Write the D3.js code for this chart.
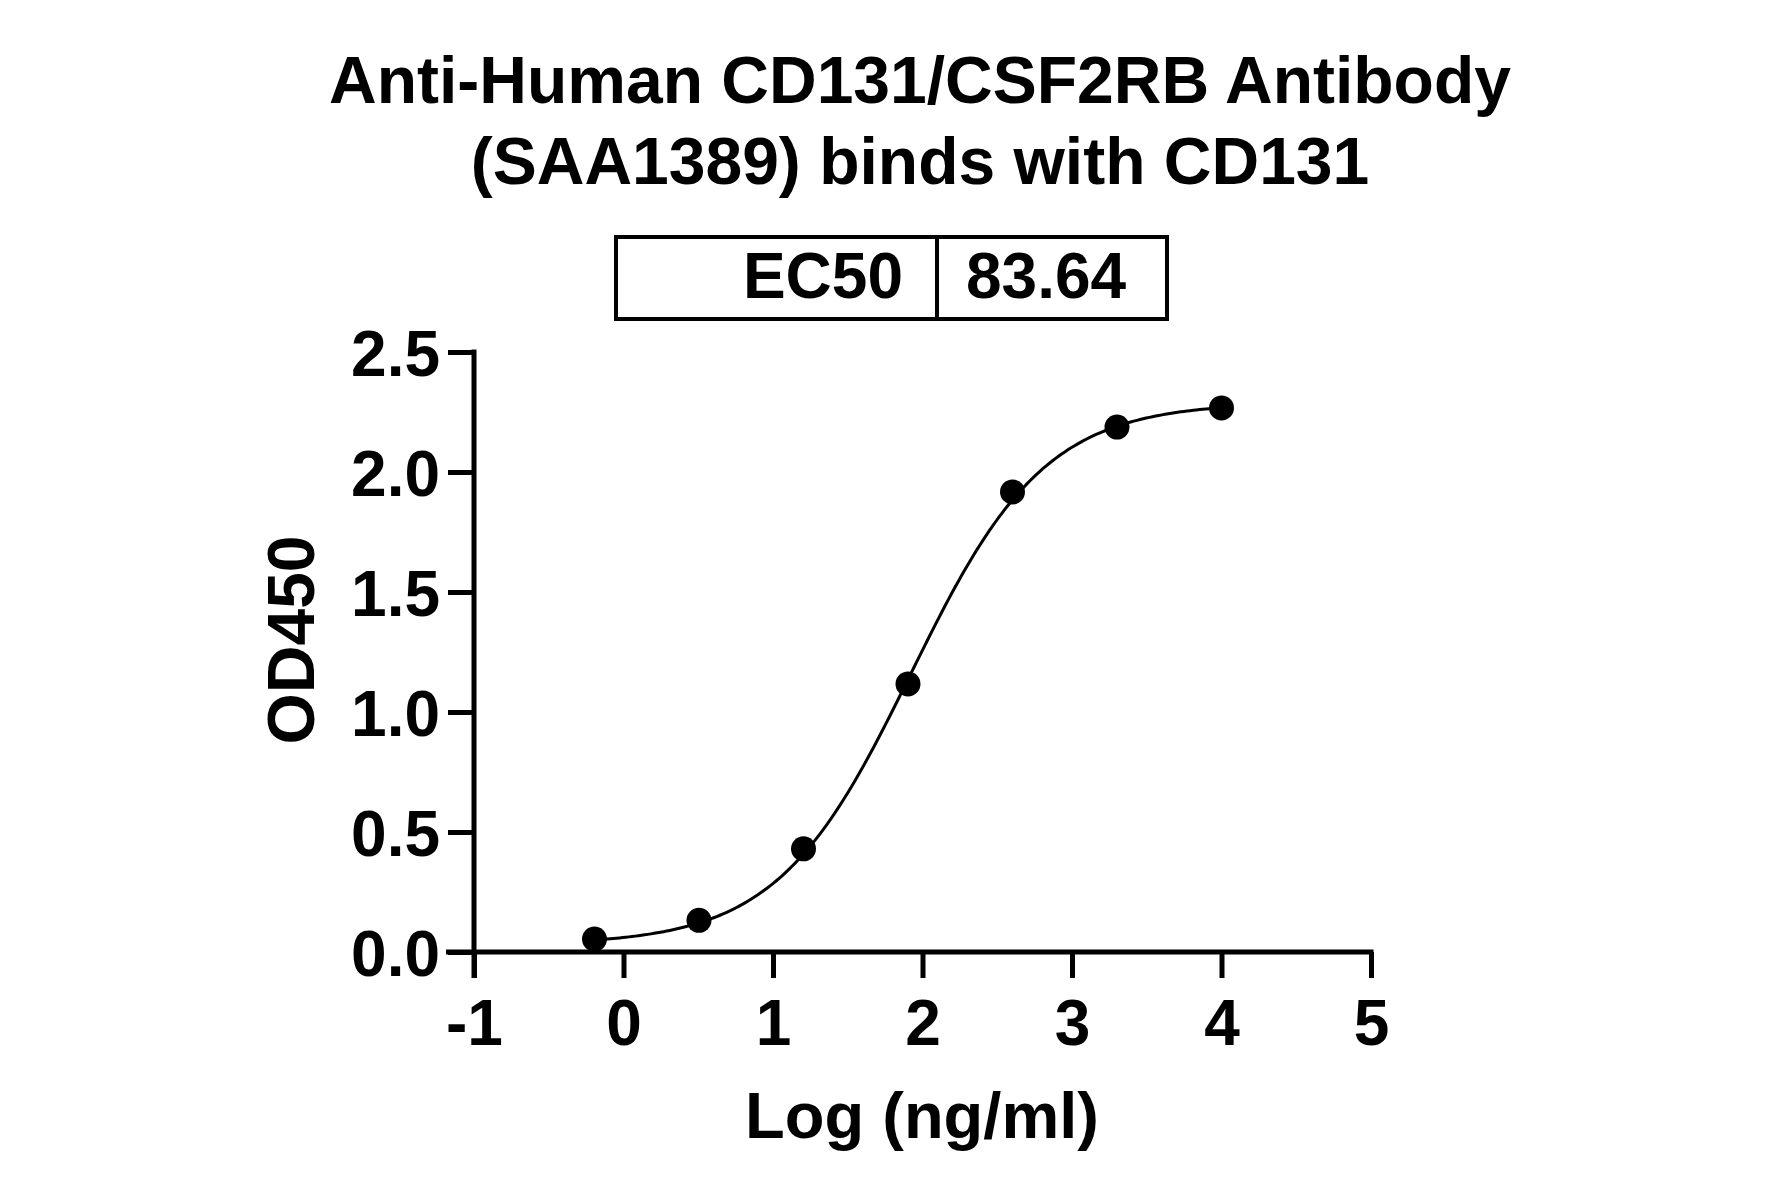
<!DOCTYPE html>
<html>
<head>
<meta charset="utf-8">
<script src="https://cdn.jsdelivr.net/npm/d3@7"></script>
<style>
  html, body { margin: 0; padding: 0; background: #fff; }
  svg { display: block; }
  text { font-family: "Liberation Sans", Arial, sans-serif; font-weight: bold; fill: #000; }
</style>
</head>
<body>
<svg id="chart" width="1781" height="1197"></svg>
<script>
// ---- data ----
const titleLines = ["Anti-Human CD131/CSF2RB Antibody", "(SAA1389) binds with CD131"];
const logConc = [-0.194, 0.505, 1.204, 1.903, 2.602, 3.301, 4.0];
const od450 = [0.054, 0.132, 0.430, 1.117, 1.917, 2.187, 2.267];
const xTicks = [-1, 0, 1, 2, 3, 4, 5];
const xTickLabels = ["-1", "0", "1", "2", "3", "4", "5"];
const yTicks = [0.0, 0.5, 1.0, 1.5, 2.0, 2.5];
const yTickLabels = ["0.0", "0.5", "1.0", "1.5", "2.0", "2.5"];
const ec50Label = "EC50";
const ec50Value = "83.64";
// 4PL fit parameters
const fitBottom = 0.03;
const fitTop = 2.29;
const fitHill = 0.97;
const fitLogEC50 = Math.log10(83.64);

const svg = d3.select("#chart");
const x = d3.scaleLinear().domain([-1, 5]).range([474, 1371]);
const y = d3.scaleLinear().domain([0, 2.5]).range([952, 352]);
const tick = 26;
const fontSize = 64;

// title
svg.append("g").selectAll("text").data(titleLines).join("text")
  .attr("x", 920).attr("y", (d, i) => 103 + i * 81)
  .attr("text-anchor", "middle").attr("font-size", 66)
  .text(d => d);

// EC50 box
const box = svg.append("g");
box.append("rect").attr("x", 616).attr("y", 237).attr("width", 551).attr("height", 82)
  .attr("fill", "none").attr("stroke", "#000").attr("stroke-width", 4);
box.append("line").attr("x1", 937).attr("x2", 937).attr("y1", 237).attr("y2", 319)
  .attr("stroke", "#000").attr("stroke-width", 4);
box.append("text").attr("x", 903).attr("y", 298).attr("text-anchor", "end")
  .attr("font-size", fontSize).text(ec50Label);
box.append("text").attr("x", 966).attr("y", 298).attr("text-anchor", "start")
  .attr("font-size", fontSize).text(ec50Value);

// x axis
const xAxis = d3.axisBottom(x).tickValues(xTicks).tickSize(tick).tickSizeOuter(0)
  .tickFormat((d, i) => xTickLabels[i]).tickPadding(22);
const gx = svg.append("g").attr("transform", `translate(0,${y(0)})`).call(xAxis);
gx.select(".domain").remove();
gx.selectAll(".tick line").attr("stroke", "#000").attr("stroke-width", 5);
gx.selectAll(".tick text").attr("font-size", fontSize).attr("font-family", "Liberation Sans, Arial, sans-serif")
  .attr("font-weight", "bold").attr("fill", "#000").attr("dy", "0.71em");
gx.append("line").attr("x1", x(-1) - tick - 2).attr("x2", x(5) + 2.5).attr("y1", 0).attr("y2", 0)
  .attr("stroke", "#000").attr("stroke-width", 5);

// y axis
const yAxis = d3.axisLeft(y).tickValues(yTicks).tickSize(tick).tickSizeOuter(0)
  .tickFormat((d, i) => yTickLabels[i]).tickPadding(8);
const gy = svg.append("g").attr("transform", `translate(${x(-1)},0)`).call(yAxis);
gy.select(".domain").remove();
gy.selectAll(".tick line").attr("stroke", "#000").attr("stroke-width", 5);
gy.selectAll(".tick text").attr("font-size", fontSize).attr("font-family", "Liberation Sans, Arial, sans-serif")
  .attr("font-weight", "bold").attr("fill", "#000").attr("dy", "0.36em");
gy.append("line").attr("x1", 0).attr("x2", 0).attr("y1", y(2.5) - 2.5).attr("y2", y(0) + tick)
  .attr("stroke", "#000").attr("stroke-width", 5);

// axis titles
svg.append("text").attr("x", 922).attr("y", 1138).attr("text-anchor", "middle")
  .attr("font-size", 65).text("Log (ng/ml)");
svg.append("text").attr("transform", `translate(314,640) rotate(-90)`)
  .attr("text-anchor", "middle").attr("font-size", 66).text("OD450");

// fitted curve
const fit = v => fitBottom + (fitTop - fitBottom) / (1 + Math.pow(10, (fitLogEC50 - v) * fitHill));
const xs = d3.range(0, 201).map(i => logConc[0] + (logConc[logConc.length - 1] - logConc[0]) * i / 200);
svg.append("path").datum(xs)
  .attr("d", d3.line().x(d => x(d)).y(d => y(fit(d))))
  .attr("fill", "none").attr("stroke", "#000").attr("stroke-width", 3);

// points
svg.append("g").selectAll("circle").data(logConc).join("circle")
  .attr("cx", d => x(d)).attr("cy", (d, i) => y(od450[i])).attr("r", 12.5).attr("fill", "#000");
</script>
</body>
</html>
